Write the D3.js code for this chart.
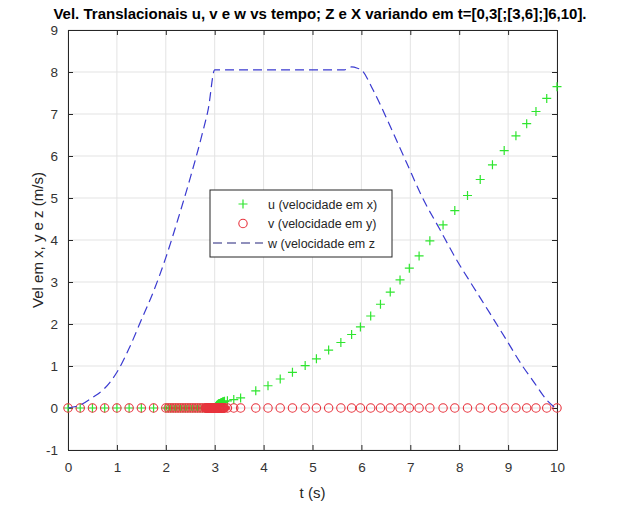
<!DOCTYPE html>
<html>
<head>
<meta charset="utf-8">
<script src="https://cdn.jsdelivr.net/npm/d3@7/dist/d3.min.js"></script>
<style>
    body { margin: 0; background: #fff; }
    svg text { font-family: "Liberation Sans", Arial, Helvetica, sans-serif; }
</style>
</head>
<body>
<svg id="chart" width="628" height="509"></svg>
<script>
// solver sample times shared by u and v (dense near the switch at t=3)
let tSamp = [0, 0.25, 0.5, 0.75, 1, 1.25, 1.5, 1.75,
    2, 2.05, 2.1, 2.15, 2.2, 2.25, 2.3, 2.35, 2.4, 2.45, 2.5, 2.55, 2.6, 2.65, 2.7, 2.75, 2.8,
    2.82, 2.83, 2.84, 2.85, 2.86, 2.87, 2.88, 2.89, 2.9, 2.91, 2.92, 2.93, 2.94, 2.95, 2.96, 2.97, 2.98, 2.99, 3,
    3.01, 3.02, 3.03, 3.04, 3.05, 3.06, 3.07, 3.08, 3.09, 3.1, 3.11, 3.12, 3.13, 3.14, 3.15, 3.16, 3.17, 3.18, 3.19, 3.2,
    3.26, 3.39, 3.53, 3.84, 4.09, 4.34, 4.59, 4.85, 5.08, 5.33, 5.58, 5.8, 5.98, 6.19, 6.39, 6.59, 6.79, 6.98,
    7.18, 7.4, 7.67, 7.91, 8.17, 8.43, 8.68, 8.92, 9.16, 9.38, 9.57, 9.79, 10]
let uVals = [0, 0, 0, 0, 0, 0, 0, 0,
    0, 0, 0, 0, 0, 0, 0, 0, 0, 0, 0, 0, 0, 0, 0, 0, 0,
    0, 0, 0, 0, 0, 0, 0, 0, 0, 0, 0, 0, 0, 0, 0, 0, 0, 0, 0,
    0.01, 0.03, 0.04, 0.06, 0.07, 0.08, 0.09, 0.1, 0.1, 0.11, 0.11, 0.12, 0.12, 0.13, 0.13, 0.14, 0.14, 0.15, 0.15, 0.16,
    0.17, 0.2, 0.24, 0.41, 0.53, 0.69, 0.85, 1.01, 1.17, 1.38, 1.56, 1.75, 1.93, 2.19, 2.47, 2.76, 3.05, 3.33,
    3.62, 3.98, 4.36, 4.7, 5.06, 5.44, 5.79, 6.13, 6.48, 6.77, 7.06, 7.37, 7.65]
let vVals = [0, 0, 0, 0, 0, 0, 0, 0,
    0, 0, 0, 0, 0, 0, 0, 0, 0, 0, 0, 0, 0, 0, 0, 0, 0,
    0, 0, 0, 0, 0, 0, 0, 0, 0, 0, 0, 0, 0, 0, 0, 0, 0, 0, 0,
    0, 0, 0, 0, 0, 0, 0, 0, 0, 0, 0, 0, 0, 0, 0, 0, 0, 0, 0, 0,
    0, 0, 0, 0, 0, 0, 0, 0, 0, 0, 0, 0, 0, 0, 0, 0, 0, 0,
    0, 0, 0, 0, 0, 0, 0, 0, 0, 0, 0, 0, 0]
let tW = [0, 0.25, 0.5, 0.75, 1, 1.25, 1.5, 1.75, 2, 2.25, 2.5, 2.75, 2.87, 3,
    3.5, 4, 4.5, 5, 5.65, 5.8, 5.92, 6, 6.24, 6.58, 6.92, 7.26, 7.6, 7.94, 8.28, 8.62, 8.96, 9.3, 9.52, 9.79, 10]
let wVals = [0, 0.07, 0.25, 0.47, 0.85, 1.42, 2.1, 2.78, 3.58, 4.5, 5.48, 6.55, 7.13, 8.05,
    8.05, 8.05, 8.05, 8.05, 8.05, 8.12, 8.09, 8.05, 7.57, 6.73, 5.85, 4.98, 4.26, 3.54, 2.9, 2.27, 1.63, 0.99, 0.63, 0.19, -0.03]

let xTicks = [0, 1, 2, 3, 4, 5, 6, 7, 8, 9, 10]
let yTicks = [-1, 0, 1, 2, 3, 4, 5, 6, 7, 8, 9]
let titleText = 'Vel. Translacionais u, v e w vs tempo; Z e X variando em t=[0,3[;[3,6];]6,10].'
let xLabel = 't (s)'
let yLabel = 'Vel em x, y e z (m/s)'
let legendLabels = ['u (velocidade em x)', 'v (velocidade em y)', 'w (velocidade em z']

let axisColor = '#262626'
let gridColor = '#e3e3e3'
let uColor = '#2fe52f'
let vColor = '#e8343e'
let wColor = '#3a3ad0'

let svg = d3.select('#chart')
let margin = {top: 30, right: 71, bottom: 59, left: 68}
let width = +svg.attr('width') - margin.left - margin.right
let height = +svg.attr('height') - margin.top - margin.bottom

let x = d3.scaleLinear().domain([0, 10]).range([0, width])
let y = d3.scaleLinear().domain([-1, 9]).range([height, 0])

let g = svg.append('g')
    .attr('transform', 'translate(' + margin.left + ',' + margin.top + ')')

// grid
g.append('g').selectAll('line.gx').data(xTicks).enter().append('line')
    .attr('x1', d => x(d)).attr('x2', d => x(d))
    .attr('y1', 0).attr('y2', height)
    .attr('stroke', gridColor).attr('stroke-width', 1)
g.append('g').selectAll('line.gy').data(yTicks).enter().append('line')
    .attr('y1', d => y(d)).attr('y2', d => y(d))
    .attr('x1', 0).attr('x2', width)
    .attr('stroke', gridColor).attr('stroke-width', 1)

// axes, ticks pointing inward on all four sides
let plainFormat = d => String(d)
function styleAxis(sel) {
    sel.select('.domain').attr('stroke', axisColor)
    sel.selectAll('.tick line').attr('stroke', axisColor)
    sel.selectAll('.tick text')
        .attr('fill', '#333')
        .style('font-size', '13.5px')
}
g.append('g')
    .attr('transform', 'translate(0,' + height + ')')
    .call(d3.axisBottom(x).tickValues(xTicks).tickFormat(plainFormat)
        .tickSizeInner(-5).tickSizeOuter(0).tickPadding(12))
    .call(styleAxis)
g.append('g')
    .call(d3.axisLeft(y).tickValues(yTicks).tickFormat(plainFormat)
        .tickSizeInner(-5).tickSizeOuter(0).tickPadding(10))
    .call(styleAxis)
g.append('g')
    .call(d3.axisTop(x).tickValues(xTicks).tickSizeInner(-5).tickSizeOuter(0).tickFormat(''))
    .call(styleAxis)
g.append('g')
    .attr('transform', 'translate(' + width + ',0)')
    .call(d3.axisRight(y).tickValues(yTicks).tickSizeInner(-5).tickSizeOuter(0).tickFormat(''))
    .call(styleAxis)

let uvData = tSamp.map((t, i) => ({t: t, u: uVals[i], v: vVals[i]}))
let wData = tW.map((t, i) => ({t: t, w: wVals[i]}))

function plusPath(cx, cy, r) {
    return 'M' + (cx - r) + ',' + cy + 'H' + (cx + r) + 'M' + cx + ',' + (cy - r) + 'V' + (cy + r)
}

g.append('g').selectAll('path.u').data(uvData).enter().append('path')
    .attr('class', 'u')
    .attr('d', d => plusPath(x(d.t), y(d.u), 4.5))
    .attr('stroke', uColor).attr('stroke-width', 1.2).attr('fill', 'none')

g.append('g').selectAll('circle.v').data(uvData).enter().append('circle')
    .attr('class', 'v')
    .attr('cx', d => x(d.t)).attr('cy', d => y(d.v)).attr('r', 4.2)
    .attr('stroke', vColor).attr('stroke-width', 1.1).attr('fill', 'none')

let wLine = d3.line().x(d => x(d.t)).y(d => y(d.w)).curve(d3.curveMonotoneX)
g.append('path')
    .datum(wData)
    .attr('d', wLine)
    .attr('fill', 'none')
    .attr('stroke', wColor)
    .attr('stroke-width', 1.2)
    .attr('stroke-dasharray', '9,5')

// legend
let legend = svg.append('g').attr('transform', 'translate(210,190)')
legend.append('rect')
    .attr('width', 182).attr('height', 67)
    .attr('fill', '#fff').attr('stroke', axisColor).attr('stroke-width', 1)
let rows = legend.selectAll('g.row').data(legendLabels).enter().append('g')
    .attr('transform', (d, i) => 'translate(0,' + (14 + i * 19.5) + ')')
rows.append('text')
    .attr('x', 58).attr('y', 4.5)
    .attr('fill', '#262626')
    .style('font-size', '12.5px')
    .text(d => d)
rows.filter((d, i) => i === 0).append('path')
    .attr('d', plusPath(33, 0, 4.5))
    .attr('stroke', uColor).attr('stroke-width', 1.2)
rows.filter((d, i) => i === 1).append('circle')
    .attr('cx', 33).attr('cy', 0).attr('r', 4.2)
    .attr('stroke', vColor).attr('stroke-width', 1.1).attr('fill', 'none')
rows.filter((d, i) => i === 2).append('line')
    .attr('x1', 3).attr('x2', 53).attr('y1', 0).attr('y2', 0)
    .attr('stroke', '#22227a').attr('stroke-width', 1.2)
    .attr('stroke-dasharray', '9,5')

// labels
svg.append('text')
    .attr('x', 320).attr('y', 19)
    .attr('text-anchor', 'middle')
    .attr('fill', '#000')
    .style('font-size', '15px').style('font-weight', 'bold')
    .text(titleText)
svg.append('text')
    .attr('x', margin.left + width / 2).attr('y', 498)
    .attr('text-anchor', 'middle')
    .attr('fill', '#262626')
    .style('font-size', '15px')
    .text(xLabel)
svg.append('text')
    .attr('transform', 'translate(43,' + (margin.top + height / 2) + ') rotate(-90)')
    .attr('text-anchor', 'middle')
    .attr('fill', '#262626')
    .style('font-size', '15px')
    .text(yLabel)
</script>
</body>
</html>
